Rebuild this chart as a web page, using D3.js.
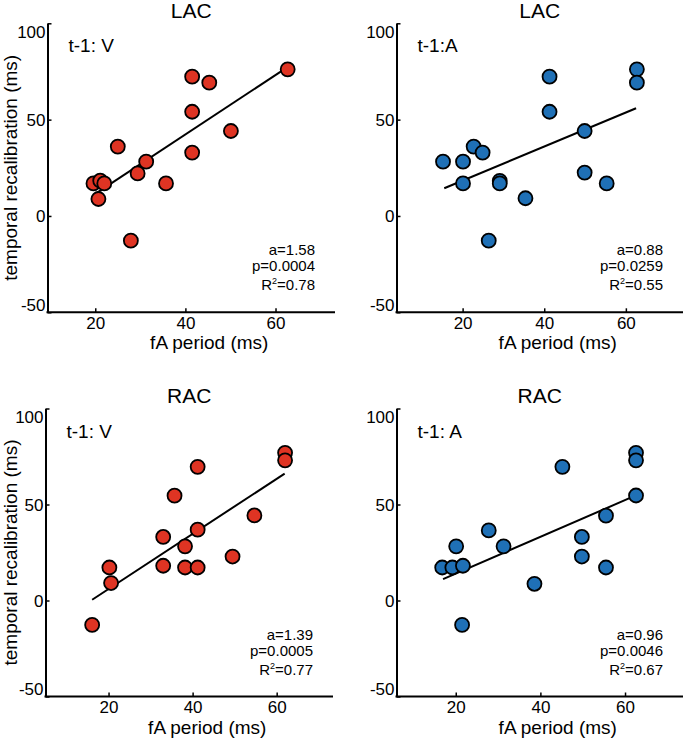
<!DOCTYPE html>
<html>
<head>
<meta charset="utf-8">
<script src="https://cdn.jsdelivr.net/npm/d3@7"></script>
<style>
  html, body { margin: 0; padding: 0; background: #fff; }
  svg { display: block; font-family: "Liberation Sans", Arial, Helvetica, sans-serif; }
</style>
</head>
<body>
<svg id="chart" width="685" height="740"></svg>
<script>
// ---------- data ----------
const titles = ["LAC", "LAC", "RAC", "RAC"];
const conditions = ["t-1: V", "t-1:A", "t-1: V", "t-1: A"];
const slopes = ["1.58", "0.88", "1.39", "0.96"];
const pValues = ["0.0004", "0.0259", "0.0005", "0.0046"];
const r2Values = ["0.78", "0.55", "0.77", "0.67"];

const xTicks = [20, 40, 60];
const yTicks = [-50, 0, 50, 100];
const yDomain = [-50, 100];
const xDomains = [[9.4, 73.2], [3.8, 74.0], [5.0, 73.4], [6.0, 73.7]];

const lacVx = [62.7, 41.5, 45.3, 41.5, 50.1, 25.0, 41.5, 31.3, 29.4, 35.7, 19.6, 21.1, 22.0, 20.7, 27.9];
const lacVy = [76.1, 72.3, 69.2, 54.1, 44.1, 36.0, 32.9, 28.2, 22.1, 16.9, 16.9, 18.3, 16.9, 8.8, -12.8];

const lacAx = [62.7, 62.7, 41.3, 41.3, 49.9, 22.7, 24.9, 15.2, 20.1, 20.1, 29.1, 29.1, 49.9, 55.3, 35.4, 26.4];
const lacAy = [76.1, 69.2, 72.3, 54.1, 44.1, 36.0, 32.9, 28.2, 28.2, 16.9, 18.2, 16.9, 22.5, 16.9, 9.2, -12.8];

const racVx = [62.0, 62.0, 41.2, 35.7, 54.7, 41.2, 33.0, 38.2, 49.5, 33.0, 38.2, 41.2, 20.2, 20.6, 16.1];
const racVy = [76.9, 73.0, 69.6, 54.6, 44.3, 36.9, 33.1, 28.2, 22.9, 18.1, 17.2, 17.2, 17.2, 9.1, -12.7];

const racAx = [62.6, 62.6, 45.2, 62.6, 55.5, 27.8, 20.1, 31.3, 49.8, 49.8, 55.5, 16.8, 19.2, 21.7, 38.6, 21.5];
const racAy = [76.9, 73.0, 69.6, 54.7, 44.2, 36.5, 28.2, 28.2, 33.1, 22.9, 17.2, 17.2, 17.2, 18.1, 8.7, -12.7];

// regression line end points [x, y]
const fitLacV = [[20.0, 11.5], [62.5, 77.0]];
const fitLacA = [[15.5, 14.4], [62.5, 55.9]];
const fitRacV = [[16.1, 0.4], [61.9, 66.1]];
const fitRacA = [[17.0, 11.1], [62.0, 54.2]];

const seriesX = [lacVx, lacAx, racVx, racAx];
const seriesY = [lacVy, lacAy, racVy, racAy];
const fits = [fitLacV, fitLacA, fitRacV, fitRacA];

// ---------- layout / style ----------
const layouts = [
  { left: 47.5, right: 335, top: 23.3, bottom: 312.3 },
  { left: 396.5, right: 683, top: 23.3, bottom: 312.3 },
  { left: 45.5, right: 333, top: 408.5, bottom: 696.5 },
  { left: 396.5, right: 683, top: 408.5, bottom: 696.5 }
];
const fills = ["#df3423", "#1f70b6", "#df3423", "#1f70b6"];
const showYLabel = [true, false, true, false];

const svg = d3.select("#chart");
const fmt = d => String(d);

layouts.forEach((L, i) => {
  const g = svg.append("g");
  const x = d3.scaleLinear().domain(xDomains[i]).range([L.left, L.right]);
  const y = d3.scaleLinear().domain(yDomain).range([L.bottom, L.top]);

  // x axis
  const xAxis = d3.axisBottom(x).tickValues(xTicks).tickFormat(fmt)
    .tickSizeInner(-4).tickSizeOuter(0).tickPadding(4);
  const xg = g.append("g").attr("transform", `translate(0,${L.bottom})`).call(xAxis);
  xg.select(".domain").attr("stroke", "#000").attr("stroke-width", 2)
    .attr("d", `M${L.left - 1},0H${L.right}`);
  xg.selectAll(".tick line").attr("stroke", "#000").attr("stroke-width", 1.5);
  xg.selectAll(".tick text").attr("font-size", 17).attr("fill", "#000")
    .attr("font-family", "Liberation Sans, Arial, sans-serif").attr("dy", "0.72em");

  // y axis
  const yAxis = d3.axisLeft(y).tickValues(yTicks).tickFormat(fmt)
    .tickSizeInner(-4).tickSizeOuter(0).tickPadding(2);
  const yg = g.append("g").attr("transform", `translate(${L.left},0)`).call(yAxis);
  yg.select(".domain").attr("stroke", "#000").attr("stroke-width", 2);
  yg.selectAll(".tick line").attr("stroke", "#000").attr("stroke-width", 1.5);
  yg.selectAll(".tick text").attr("font-size", 17).attr("fill", "#000")
    .attr("font-family", "Liberation Sans, Arial, sans-serif")
    .attr("dy", d => d === 100 ? "0.85em" : (d === -50 ? "-0.1em" : "0.35em"));

  // title
  g.append("text").attr("x", (L.left + L.right) / 2).attr("y", L.top - 5.5)
    .attr("text-anchor", "middle").attr("font-size", 21).text(titles[i]);

  // condition label
  g.append("text").attr("x", L.left + 21).attr("y", L.top + 29)
    .attr("font-size", 19).text(conditions[i]);

  // fit line
  const f = fits[i];
  g.append("line")
    .attr("x1", x(f[0][0])).attr("y1", y(f[0][1]))
    .attr("x2", x(f[1][0])).attr("y2", y(f[1][1]))
    .attr("stroke", "#000").attr("stroke-width", 2);

  // points
  const pts = seriesX[i].map((v, k) => ({ x: v, y: seriesY[i][k] }));
  g.selectAll("circle.pt").data(pts).enter().append("circle")
    .attr("class", "pt")
    .attr("cx", d => x(d.x)).attr("cy", d => y(d.y)).attr("r", 7)
    .attr("fill", fills[i]).attr("stroke", "#000").attr("stroke-width", 1.8);

  // stats
  const sx = L.right - 20;
  const sy = L.bottom - 57;
  g.append("text").attr("x", sx).attr("y", sy).attr("text-anchor", "end")
    .attr("font-size", 15).text("a=" + slopes[i]);
  g.append("text").attr("x", sx).attr("y", sy + 16).attr("text-anchor", "end")
    .attr("font-size", 15).text("p=" + pValues[i]);
  const r = g.append("text").attr("x", sx).attr("y", sy + 35).attr("text-anchor", "end")
    .attr("font-size", 15);
  r.append("tspan").text("R");
  r.append("tspan").attr("font-size", 9).attr("dy", -6).text("2");
  r.append("tspan").attr("dy", 6).text("=" + r2Values[i]);

  // x label
  g.append("text").attr("x", (L.left + L.right) / 2 + 18).attr("y", L.bottom + 37)
    .attr("text-anchor", "middle").attr("font-size", 19).text("fA period (ms)");

  // y label
  if (showYLabel[i]) {
    const cy = (L.top + L.bottom) / 2;
    g.append("text").attr("transform", `translate(17,${cy}) rotate(-90)`)
      .attr("text-anchor", "middle").attr("font-size", 19)
      .text("temporal recalibration (ms)");
  }
});
</script>
</body>
</html>
